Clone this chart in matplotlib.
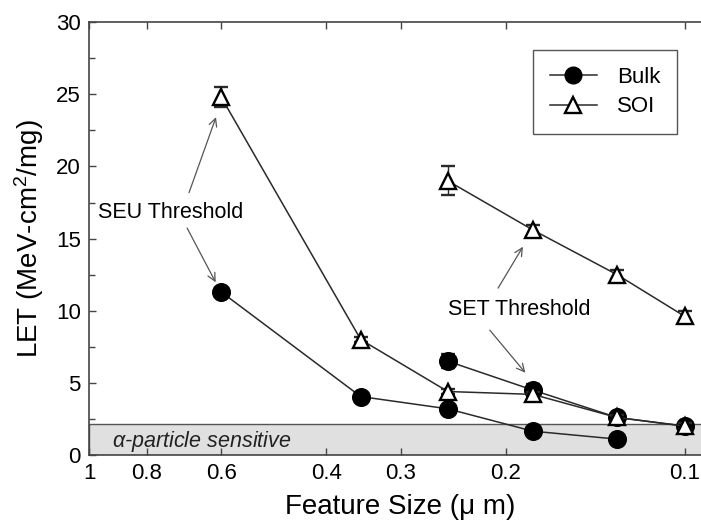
import numpy as np
import matplotlib
matplotlib.use('Agg')
import matplotlib.pyplot as plt
from matplotlib.ticker import FixedLocator, NullLocator, MultipleLocator

plt.rcParams['font.family'] = ['Liberation Sans', 'DejaVu Sans']
plt.rcParams['mathtext.fontset'] = 'custom'
plt.rcParams['mathtext.rm'] = 'Liberation Sans'
plt.rcParams['mathtext.it'] = 'Liberation Sans:italic'

# Data (feature size in um, LET in MeV-cm2/mg)
bulk_seu_x = [0.6, 0.35, 0.25, 0.18, 0.13]
bulk_seu_y = [11.3, 4.05, 3.2, 1.65, 1.1]

soi_seu_x = [0.6, 0.35, 0.25, 0.18, 0.13, 0.1]
soi_seu_y = [24.8, 8.0, 4.4, 4.2, 2.6, 2.0]
soi_seu_err = [0.7, 0.15, 0.15, 0.15, 0.2, 0.2]

bulk_set_x = [0.25, 0.18, 0.13, 0.1]
bulk_set_y = [6.5, 4.5, 2.6, 2.0]
bulk_set_err = [0.5, 0.4, 0.2, 0.2]

soi_set_x = [0.25, 0.18, 0.13, 0.1]
soi_set_y = [19.0, 15.6, 12.5, 9.6]
soi_set_err = [1.0, 0.35, 0.3, 0.35]

alpha_limit = 2.15

fig = plt.figure(figsize=(7.01, 5.24), dpi=100)
ax = fig.add_axes([0.127, 0.1317, 0.889, 0.826])

ax.axhspan(0, alpha_limit, facecolor='#e0e0e0', edgecolor='#555555', lw=1.0, zorder=0)

line_kw = dict(color='#2a2a2a', lw=1.1, mec='black', mew=1.7, capsize=5,
               ecolor='#2a2a2a', elinewidth=1.0, capthick=1.0)

ax.errorbar(bulk_seu_x, bulk_seu_y, fmt='-o', ms=12, mfc='black', zorder=3, **line_kw)
ax.errorbar(bulk_set_x, bulk_set_y, yerr=bulk_set_err, fmt='-o', ms=12, mfc='black',
            zorder=3, **line_kw)
ax.errorbar(soi_seu_x, soi_seu_y, yerr=soi_seu_err, fmt='-^', ms=12, mfc='white',
            zorder=4, **line_kw)
ax.errorbar(soi_set_x, soi_set_y, yerr=soi_set_err, fmt='-^', ms=12, mfc='white',
            zorder=4, **line_kw)

# legend proxies
ax.plot([], [], '-o', color='#2a2a2a', lw=1.1, ms=12, mfc='black', mec='black', label='Bulk')
ax.plot([], [], '-^', color='#2a2a2a', lw=1.1, ms=12, mfc='white', mec='black', mew=1.7,
        label='SOI')
leg = ax.legend(loc='upper right', bbox_to_anchor=(0.943, 0.936), fontsize=16,
                fancybox=False, framealpha=1, edgecolor='#555555', handlelength=2.1,
                borderpad=0.75, labelspacing=0.4, handletextpad=0.9, borderaxespad=0)
leg.get_frame().set_linewidth(1.0)

ax.set_xscale('log')
ax.set_xlim(1, 0.09)
ax.set_ylim(0, 30)

xticks = [1, 0.8, 0.6, 0.4, 0.3, 0.2, 0.1]
ax.xaxis.set_major_locator(FixedLocator(xticks))
ax.xaxis.set_minor_locator(NullLocator())
ax.set_xticklabels(['1', '0.8', '0.6', '0.4', '0.3', '0.2', '0.1'])
ax.yaxis.set_major_locator(MultipleLocator(5))
ax.yaxis.set_minor_locator(MultipleLocator(2.5))

ax.tick_params(which='both', direction='in', top=True, right=False, labelsize=16,
               color='#444444', width=1.0)
ax.tick_params(which='major', length=5, pad=6)
ax.tick_params(which='minor', length=4)
for s in ax.spines.values():
    s.set_color('#444444')
    s.set_linewidth(1.2)
ax.spines['right'].set_visible(False)

ax.set_ylabel('LET (MeV-cm$^2$/mg)', fontsize=20, labelpad=7)
ax.set_xlabel('Feature Size (\u03bc m)', fontsize=20, labelpad=7)

arrow_kw = dict(arrowstyle='->', color='#555555', lw=0.9, mutation_scale=14)
ax.text(0.966, 16.8, 'SEU Threshold', fontsize=15.5, ha='left', va='center')
ax.annotate('', xy=(0.610, 23.6), xytext=(0.682, 18.0), arrowprops=arrow_kw)
ax.annotate('', xy=(0.610, 11.8), xytext=(0.688, 15.9), arrowprops=arrow_kw)

ax.text(0.25, 10.05, 'SET Threshold', fontsize=15.5, ha='left', va='center')
ax.annotate('', xy=(0.186, 14.6), xytext=(0.207, 11.4), arrowprops=arrow_kw)
ax.annotate('', xy=(0.184, 5.55), xytext=(0.214, 8.8), arrowprops=arrow_kw)

ax.text(0.915, 0.95, r'$\alpha$-particle sensitive', fontsize=15.5, style='italic',
        ha='left', va='center', color='#222222')

fig.savefig('out.png', dpi=100)
